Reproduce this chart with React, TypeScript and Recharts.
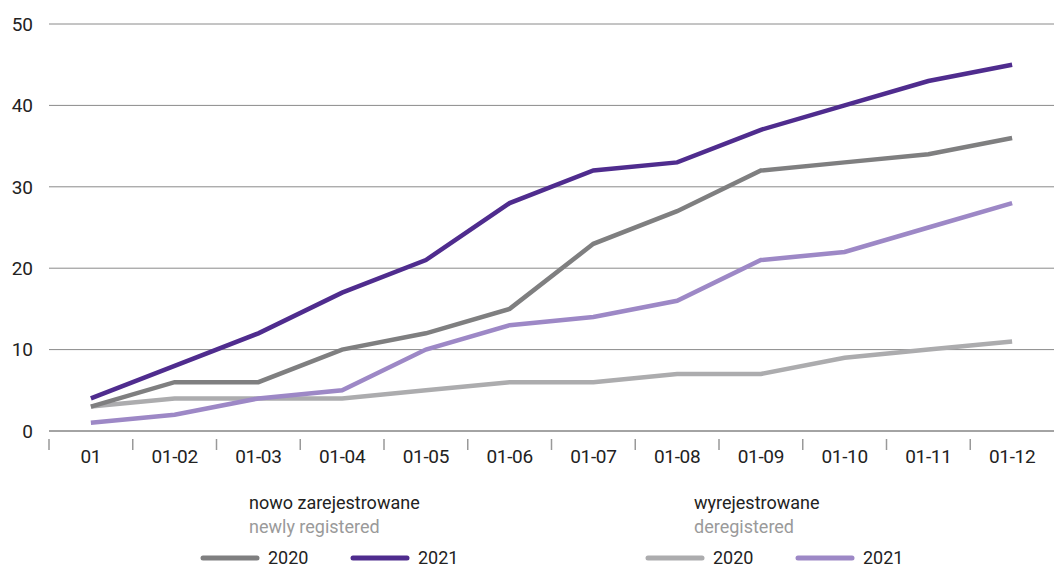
import React from "react";
import { CartesianGrid, Line, LineChart, XAxis, YAxis } from "recharts";

const months = ["01", "01-02", "01-03", "01-04", "01-05", "01-06", "01-07", "01-08", "01-09", "01-10", "01-11", "01-12"];
const newly2020 = [3, 6, 6, 10, 12, 15, 23, 27, 32, 33, 34, 36];
const newly2021 = [4, 8, 12, 17, 21, 28, 32, 33, 37, 40, 43, 45];
const dereg2020 = [3, 4, 4, 4, 5, 6, 6, 7, 7, 9, 10, 11];
const dereg2021 = [1, 2, 4, 5, 10, 13, 14, 16, 21, 22, 25, 28];
const yTicks = [0, 10, 20, 30, 40, 50];

const data = months.map((m, i) => ({
  month: m,
  n2020: newly2020[i],
  n2021: newly2021[i],
  d2020: dereg2020[i],
  d2021: dereg2021[i],
}));

const C = {
  n2020: "#7f7f80",
  n2021: "#4f2c8e",
  d2020: "#acacae",
  d2021: "#9d88c6",
};

const FONT = "Roboto, 'Open Sans', sans-serif";
const W = 1054;
const LEFT = 49;
const BAND = (W - LEFT) / months.length;

function MonthTick(props: any) {
  const { x, y, payload } = props;
  return (
    <g>
      <line x1={x - BAND / 2} x2={x - BAND / 2} y1={y} y2={y + 11} stroke="#999" strokeWidth={1.5} />
      <text x={x} y={y + 24} textAnchor="middle" fill="#222" fontSize={19} fontFamily={FONT} letterSpacing={-0.3}>
        {payload.value}
      </text>
    </g>
  );
}

function Swatch({ color }: { color: string }) {
  return (
    <svg width={60} height={8} style={{ display: "block" }}>
      <line x1={3} x2={57} y1={4} y2={4} stroke={color} strokeWidth={5} strokeLinecap="round" />
    </svg>
  );
}

function LegendGroup({ left, title, sub, c1, c2 }: { left: number; title: string; sub: string; c1: string; c2: string }) {
  return (
    <div style={{ position: "absolute", left, top: 491, fontFamily: FONT }}>
      <div style={{ marginLeft: 49, fontSize: 18, color: "#222", lineHeight: "24px" }}>{title}</div>
      <div style={{ marginLeft: 49, fontSize: 18, color: "#9a9a9a", lineHeight: "24px" }}>{sub}</div>
      <div style={{ display: "flex", alignItems: "center", marginTop: 8, fontSize: 18, color: "#222" }}>
        <Swatch color={c1} />
        <span style={{ marginLeft: 8, width: 82 }}>2020</span>
        <Swatch color={c2} />
        <span style={{ marginLeft: 8 }}>2021</span>
      </div>
    </div>
  );
}

export default function App() {
  return (
    <div style={{ position: "absolute", left: 0, top: 0, width: W, height: 570, background: "#fff" }}>
      <LineChart width={W} height={470} data={data} margin={{ top: 24, right: 0, left: 0, bottom: 0 }}>
        <CartesianGrid horizontal vertical={false} stroke="#8a8a8a" strokeWidth={1} />
        <XAxis
          dataKey="month"
          height={39}
          padding={{ left: BAND / 2, right: BAND / 2 }}
          axisLine={{ stroke: "#999", strokeWidth: 1.5 }}
          tickLine={false}
          tick={<MonthTick />}
          interval={0}
        />
        <YAxis
          width={LEFT}
          domain={[0, 50]}
          ticks={yTicks}
          axisLine={false}
          tickLine={false}
          tickSize={0}
          tickMargin={16}
          tick={{ fill: "#222", fontSize: 19, fontFamily: FONT }}
        />
        <Line dataKey="d2020" stroke={C.d2020} strokeWidth={4.5} dot={false} isAnimationActive={false} />
        <Line dataKey="d2021" stroke={C.d2021} strokeWidth={4.5} dot={false} isAnimationActive={false} />
        <Line dataKey="n2020" stroke={C.n2020} strokeWidth={4.5} dot={false} isAnimationActive={false} />
        <Line dataKey="n2021" stroke={C.n2021} strokeWidth={4.5} dot={false} isAnimationActive={false} />
      </LineChart>
      <LegendGroup left={200} title="nowo zarejestrowane" sub="newly registered" c1={C.n2020} c2={C.n2021} />
      <LegendGroup left={645} title="wyrejestrowane" sub="deregistered" c1={C.d2020} c2={C.d2021} />
    </div>
  );
}
